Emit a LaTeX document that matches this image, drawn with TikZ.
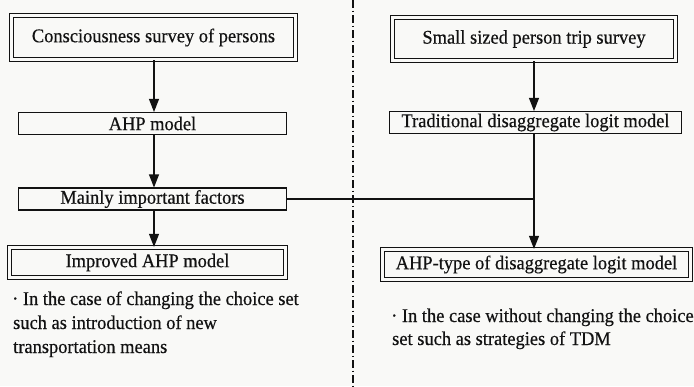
\documentclass[tikz,border=0pt]{standalone}
\usepackage{fontspec}
\setmainfont{Liberation Serif}
\newfontfamily\printfont{Liberation Serif}[FakeBold=0.5]
\usetikzlibrary{arrows.meta}
\definecolor{paper}{RGB}{249,249,247}
\definecolor{ink}{RGB}{18,18,18}
% type set slightly narrow, as in the printed figure
\newcommand{\narrow}[1]{\scalebox{0.95}[1]{#1}}
\begin{document}
\begin{tikzpicture}[x=1pt,y=-1pt,
  every node/.style={font=\printfont\fontsize{19.4}{24}\selectfont, text=ink, inner sep=0pt},
  plainbox/.style={draw=ink, line width=1.1pt, minimum height=22pt},
  framebox/.style={draw=ink, double=paper, double distance=2.4pt, line width=1.3pt},
  arr/.style={draw=ink, line width=1.1pt, -{Triangle[length=13pt,width=10pt]}},
  link/.style={draw=ink, line width=1.1pt},
  divider/.style={draw=ink, line width=1.2pt, dash pattern=on 8pt off 2.5pt on 1.5pt off 3pt},
  note/.style={anchor=base west}]
\fill[paper] (0,0) rectangle (694,386);
\useasboundingbox (0,0) rectangle (694,386);

% dash-dot divider between the two approaches
\coordinate (dtop) at (353,0);
\coordinate (dbot) at (353,386);
\draw[divider] (dtop) -- (dbot);

% left column: AHP approach
\node[framebox, minimum width=284pt, minimum height=44pt] (cons) at (153.5,37.5) {\narrow{Consciousness survey of persons}};
\node[plainbox, minimum width=268pt] (ahp) at (152.5,123.5) {\narrow{AHP model}};
\node[plainbox, minimum width=268pt] (mif) at (152.5,199) {\narrow{Mainly important factors}};
\node[framebox, minimum width=276pt, minimum height=30pt] (imp) at (147.5,262.5) {\narrow{Improved AHP model}};

% right column: logit approach
\node[framebox, minimum width=283pt, minimum height=43pt] (small) at (534,39) {\narrow{Small sized person trip survey}};
\node[plainbox, minimum width=292pt] (trad) at (535.5,122.5) {\narrow{Traditional disaggregate logit model}};
\node[framebox, minimum width=308pt, minimum height=30pt] (ahpt) at (536.5,264.5) {\narrow{AHP-type of disaggregate logit model}};

% connectors
\coordinate (la) at (154,0);
\coordinate (j) at (534,199);
\draw[arr] (la |- cons.south) -- (la |- ahp.north);
\draw[arr] (la |- ahp.south) -- (la |- mif.north);
\draw[arr] (la |- mif.south) -- (la |- imp.north);
\draw[arr] (j |- small.south) -- (j |- trad.north);
\draw[link] (mif.east) -- (j);
\draw[link] (j |- trad.south) -- (j);
\draw[arr] (j) -- (j |- ahpt.north);

% application notes
\node[note] (l1) at (12,305) {\narrow{· In the case of changing the choice set}};
\node[note] (l2) at (13,329) {\narrow{such as introduction of new}};
\node[note] (l3) at (13,353) {\narrow{transportation means}};
\node[note] (r1) at (391,322) {\narrow{· In the case without changing the choice}};
\node[note] (r2) at (392,345) {\narrow{set such as strategies of TDM}};
\end{tikzpicture}
\end{document}
